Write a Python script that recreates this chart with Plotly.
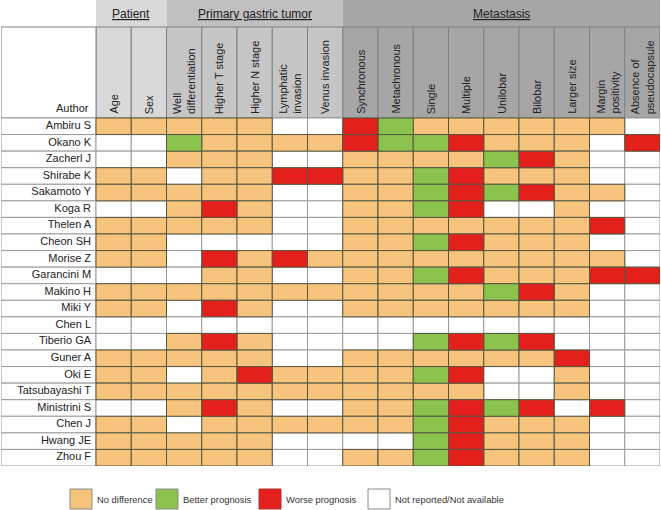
import plotly.graph_objects as go

# ---------------- data ----------------
authors = ["Ambiru S", "Okano K", "Zacherl J", "Shirabe K", "Sakamoto Y", "Koga R",
           "Thelen A", "Cheon SH", "Morise Z", "Garancini M", "Makino H", "Miki Y",
           "Chen L", "Tiberio GA", "Guner A", "Oki E", "Tatsubayashi T", "Ministrini S",
           "Chen J", "Hwang JE", "Zhou F"]

factors = ["Age", "Sex", "Well<br>differentiation", "Higher T stage", "Higher N stage",
           "Lymphatic<br>invasion", "Venus invasion", "Synchronous", "Metachronous",
           "Single", "Multiple", "Unilobar", "Bilobar", "Larger size",
           "Margin<br>positivity", "Absence of<br>pseudocapsule"]

groups = ["Patient", "Primary gastric tumor", "Metastasis"]
group_sizes = [2, 5, 9]

# N = no difference, B = better prognosis, W = worse prognosis, X = not reported
results = [
    "NNNNNXXWBNNNNNNX",  # Ambiru S
    "XXBNNNNWBBWNNNXW",  # Okano K
    "XXNNNXXNNNNBWNXX",  # Zacherl J
    "NNXNNWWNNBWNNNXX",  # Shirabe K
    "NNNNNXXNNBWBWNNX",  # Sakamoto Y
    "XXNWNXXNNBWXXNXX",  # Koga R
    "NNNNNXXNNNNNNNWX",  # Thelen A
    "NNXXXXXNNBWNNNXX",  # Cheon SH
    "NNXWNWNNNNNNNNNX",  # Morise Z
    "XXXNNXXNNBWNNNWW",  # Garancini M
    "NNNNNNNNNNNBWNXX",  # Makino H
    "NNXWNXXNNNNNNNXX",  # Miki Y
    "XXXXXXXXXXXXXXXX",  # Chen L
    "XXNWNXXXXBWBWXXX",  # Tiberio GA
    "NNNNNXXNNNNNNWXX",  # Guner A
    "NNXNWNNNNBWXXNXX",  # Oki E
    "NNNNNNNNNNNXXNXX",  # Tatsubayashi T
    "XXNWNXXNNBWBWXWX",  # Ministrini S
    "NNXNNNNNNBWNNNXX",  # Chen J
    "NNNNNXXXXBWNNNXX",  # Hwang JE
    "NNNNNXXNNBWNNNXX",  # Zhou F
]

categories = ["X", "N", "B", "W"]
cat_names = {"N": "No difference", "B": "Better prognosis",
             "W": "Worse prognosis", "X": "Not reported/Not available"}
cat_colors = {"N": "#F6C47C", "B": "#8CC34F", "W": "#E3201B", "X": "#FFFFFF"}
cat_lines = {"N": "#55553f", "B": "#55553f", "W": "#55553f", "X": "#9a9a9a"}

# ---------------- geometry (data units) ----------------
n_rows = len(authors)
n_cols = len(factors)
author_w = 2.695
y_top = -7.62
band_bottom = -5.99
W, H = 661, 510
ml, mr, mt, mb = 1, 1, 0, 44
plot_w = W - ml - mr
plot_h = H - mt - mb

FONT = "Arial, Liberation Sans, Helvetica"

fig = go.Figure()

# author column
fig.add_trace(go.Bar(
    orientation="h", y=list(range(n_rows)), x=[author_w] * n_rows,
    base=[-author_w] * n_rows, width=1,
    marker=dict(color="white", line=dict(color="#9a9a9a", width=1)),
    hoverinfo="skip", showlegend=False))
fig.add_trace(go.Scatter(
    x=[-0.14] * n_rows, y=list(range(n_rows)), mode="text", text=authors,
    textposition="middle left",
    textfont=dict(family=FONT, size=11, color="#222222"),
    hoverinfo="skip", showlegend=False))

# cells per category
for cat in categories:
    ys, xs = [], []
    for r, row in enumerate(results):
        for c, v in enumerate(row):
            if v == cat:
                ys.append(r)
                xs.append(c)
    fig.add_trace(go.Bar(
        orientation="h", y=ys, x=[1] * len(xs), base=xs, width=1,
        marker=dict(color=cat_colors[cat], line=dict(color=cat_lines[cat], width=1)),
        name=cat_names[cat], hoverinfo="skip", showlegend=False))

shapes = []
annotations = []

band_fill = ["#d9d9d9", "#c0c0c0", "#a6a6a6"]
col_fill = ["#d9d9d9", "#c6c6c6", "#a6a6a6"]

start = 0
for g, size in enumerate(group_sizes):
    shapes.append(dict(type="rect", xref="x", yref="y", x0=start, x1=start + size,
                       y0=y_top, y1=band_bottom, fillcolor=band_fill[g],
                       line=dict(width=0), layer="below"))
    annotations.append(dict(x=start + size / 2, y=(y_top + band_bottom) / 2,
                            xref="x", yref="y", text="<u>" + groups[g] + "</u>",
                            showarrow=False,
                            font=dict(family=FONT, size=12, color="#222222")))
    for c in range(start, start + size):
        shapes.append(dict(type="rect", xref="x", yref="y", x0=c, x1=c + 1,
                           y0=band_bottom, y1=-0.5, fillcolor=col_fill[g],
                           line=dict(color="#808080", width=1), layer="below"))
        annotations.append(dict(x=c + 0.5, y=-0.62, xref="x", yref="y",
                                text=factors[c], textangle=-90, showarrow=False,
                                xanchor="center", yanchor="bottom", align="left",
                                font=dict(family=FONT, size=11, color="#222222")))
    start += size

# author header cell
shapes.append(dict(type="rect", xref="x", yref="y", x0=-author_w, x1=0,
                   y0=band_bottom, y1=-0.5, fillcolor="white",
                   line=dict(color="#808080", width=1), layer="below"))
annotations.append(dict(x=-0.14, y=-0.62, xref="x", yref="y", text="Author",
                        showarrow=False, xanchor="right", yanchor="bottom",
                        font=dict(family=FONT, size=11, color="#222222")))

# legend (paper coords from pixel positions)
def px_x(px):
    return (px - ml) / plot_w

def px_y(py):
    return 1 - (py - mt) / plot_h

legend_order = ["N", "B", "W", "X"]
legend_box_x = [70, 156, 259, 368]
for cat, bx in zip(legend_order, legend_box_x):
    shapes.append(dict(type="rect", xref="paper", yref="paper",
                       x0=px_x(bx), x1=px_x(bx + 22), y0=px_y(509), y1=px_y(489),
                       fillcolor=cat_colors[cat],
                       line=dict(color="#8a8a8a" if cat != "W" else "#a33", width=1)))
    annotations.append(dict(x=px_x(bx + 25), y=px_y(499), xref="paper", yref="paper",
                            text=cat_names[cat], showarrow=False, xanchor="left",
                            yanchor="middle",
                            font=dict(family=FONT, size=9.4, color="#333333")))

fig.update_layout(
    width=W, height=H,
    margin=dict(l=ml, r=mr, t=mt, b=mb, pad=0),
    paper_bgcolor="white", plot_bgcolor="white",
    barmode="overlay", bargap=0,
    shapes=shapes, annotations=annotations,
    xaxis=dict(range=[-author_w, n_cols], showgrid=False, zeroline=False,
               showticklabels=False, fixedrange=True),
    yaxis=dict(range=[n_rows - 0.5, y_top], showgrid=False, zeroline=False,
               showticklabels=False, fixedrange=True),
    showlegend=False,
    hovermode=False,
)

fig.write_html("out.html", config={"displayModeBar": False, "staticPlot": True},
               post_script="document.body.style.margin='0';")
